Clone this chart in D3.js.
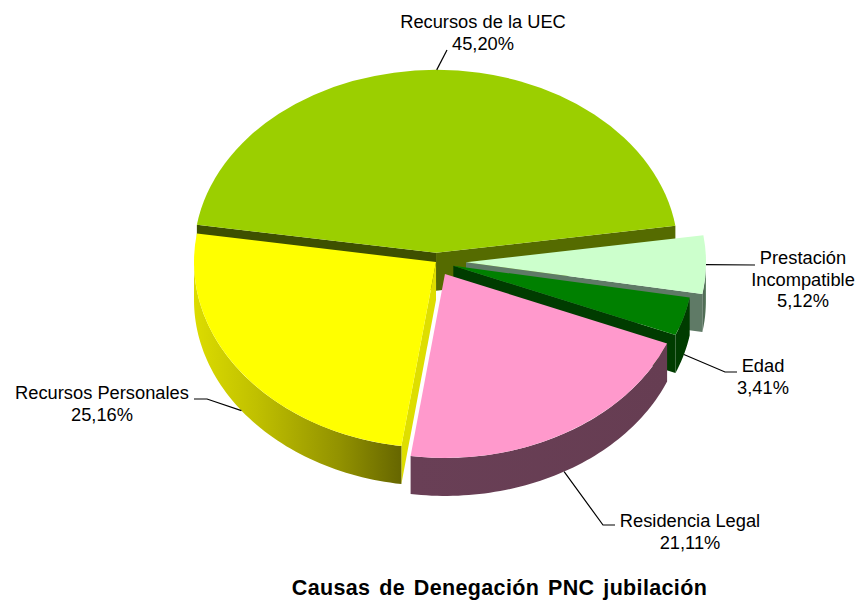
<!DOCTYPE html>
<html><head><meta charset="utf-8">
<script src="https://cdn.jsdelivr.net/npm/d3@7"></script>
<style>html,body{margin:0;padding:0;background:#fff}svg{display:block}text{font-family:"Liberation Sans",Arial,sans-serif;fill:#000}</style>
</head><body><div id="c"></div>
<script>
const categories = ["Recursos de la UEC","Prestación Incompatible","Edad","Residencia Legal","Recursos Personales"];
const labelLines = [["Recursos de la UEC"],["Prestación","Incompatible"],["Edad"],["Residencia Legal"],["Recursos Personales"]];
const values = [45.20,5.12,3.41,21.11,25.16];
const topColors = ["#9bcf00","#ccffcc","#008000","#ff99cc","#ffff00"];
const explode = [12,30,18,18,0];
const drawOrder = [0,1,2,4,3];

const W=857,H=600,cx=436,cy=262,depth=38,k=0.7625;
const radiusX=[242,240,240,240,242];
const radiusY=[183,183,183,184,186];
const rad=d=>d*Math.PI/180;
const svg=d3.select("#c").append("svg").attr("width",W).attr("height",H);
const defs=svg.append("defs");
const pie=d3.pie().sort(null).value(d=>d).startAngle(rad(-81.2)).endAngle(rad(278.8));
const arcs=pie(values);
const offset=(i,a)=>({x:cx+explode[i]*Math.sin(a),y:cy-explode[i]*Math.cos(a)*k});
const rim=(i,o,a,d=0)=>[o.x+radiusX[i]*Math.sin(a),o.y-radiusY[i]*Math.cos(a)+d];
const line=d3.line();

function grad(id,stops){
  const g=defs.append("linearGradient").attr("id",id).attr("x1","0").attr("x2","1").attr("y1","0").attr("y2","0");
  stops.forEach(s=>g.append("stop").attr("offset",s[0]).attr("stop-color",s[1]));
  return `url(#${id})`;
}
const wallFill=[
  "#4d6600",
  grad("gL",[[0,"#4c6652"],[0.6,"#527057"],[1,"#6f8c74"]]),
  "#003c00",
  grad("gP",[[0,"#693f56"],[1,"#663d52"]]),
  grad("gY",[[0,"#dcdc00"],[0.3,"#c0c000"],[0.7,"#929200"],[1,"#666600"]])
];
const faceFill=[["#3e5000","#556b00"],"#5f7a66","#003c00","#663d52","#dede00"];

function face(g,i,o,a,color){
  const p=rim(i,o,a);
  g.append("path").attr("d",line([[o.x,o.y],p,[p[0],p[1]+depth],[o.x,o.y+depth]])).attr("fill",color);
}
function wall(g,i,o,a0,a1,color){
  const lo=Math.max(a0,rad(90)),hi=Math.min(a1,rad(270));
  if(hi<=lo)return;
  const as=d3.range(0,61).map(t=>lo+(hi-lo)*t/60);
  const top=as.map(a=>rim(i,o,a));
  const bot=as.slice().reverse().map(a=>rim(i,o,a,depth));
  g.append("path").attr("d",line(top.concat(bot))+"Z").attr("fill",color);
}
const pieG=svg.append("g");
drawOrder.forEach(i=>{
  const d=arcs[i],mid=(d.startAngle+d.endAngle)/2,o=offset(i,mid);
  const g=pieG.append("g");
  if(i===0){
    face(g,i,o,d.startAngle,faceFill[0][0]);
    face(g,i,o,d.endAngle,faceFill[0][1]);
  }
  if(i===1||i===2) face(g,i,o,d.endAngle,faceFill[i]);
  if(i===4) face(g,i,o,d.startAngle,faceFill[i]);
  wall(g,i,o,d.startAngle,d.endAngle,wallFill[i]);
  const arcGen=d3.arc().innerRadius(0).outerRadius(radiusX[i]);
  g.append("path").attr("d",arcGen(d))
   .attr("transform",`translate(${o.x},${o.y}) scale(1,${radiusY[i]/radiusX[i]})`).attr("fill",topColors[i]);
});

const elbows=[[[447,50]],[[755,265]],[[725,372],[737,372]],[[603,525],[615,525]],[[207,399],[194,399]]];
const labelPos=[[483,28],[803,264],[763,372],[690,527],[102,399]];
const fs=18.3,lh=21.6;
arcs.forEach((d,i)=>{
  const mid=(d.startAngle+d.endAngle)/2,o=offset(i,mid);
  const front=Math.cos(mid)<-0.05;
  const start=rim(i,o,mid,front?depth:0);
  svg.append("path").attr("d",line([start,...elbows[i]])).attr("fill","none").attr("stroke","#000").attr("stroke-width",1.2);
  const t=svg.append("text").attr("text-anchor","middle").attr("font-size",fs);
  const lines=labelLines[i].concat([values[i].toFixed(2).replace(".",",")+"%"]);
  lines.forEach((s,j)=>t.append("tspan").attr("x",labelPos[i][0]).attr("y",labelPos[i][1]+j*lh).text(s));
});
svg.append("text").attr("x",499.5).attr("y",595).attr("text-anchor","middle")
  .attr("font-size",21.5).attr("font-weight","bold").attr("letter-spacing",0.35).attr("word-spacing",2.5)
  .text("Causas de Denegación PNC jubilación");
</script></body></html>
